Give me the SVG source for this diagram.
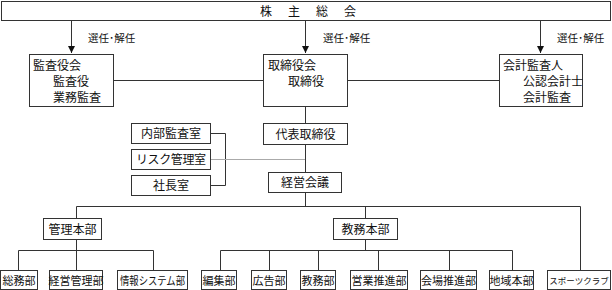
<svg xmlns="http://www.w3.org/2000/svg" width="612" height="290" viewBox="0 0 612 290">
<style>
.b{fill:#fff;stroke:#333;stroke-width:1}
.t{font-family:"Liberation Serif","Noto Sans CJK JP",serif;font-size:12px;fill:#111}
.c{text-anchor:middle}
.s{font-size:10.5px}
.r{font-size:11px}
.ln{stroke:#333;stroke-width:1;fill:none}
.g{stroke:#aaa;stroke-width:1.2;fill:none}
</style>
<defs>
<marker id="ah" markerWidth="8" markerHeight="8" refX="7" refY="4" orient="auto" markerUnits="userSpaceOnUse">
<path d="M0,0.5 L7,4 L0,7.5 Z" fill="#111"/>
</marker>
</defs>
<rect width="612" height="290" fill="#fff"/>
<g id="connectors">
<line class="ln" x1="71.5" y1="21" x2="71.5" y2="53" marker-end="url(#ah)"/>
<line class="ln" x1="305.5" y1="21" x2="305.5" y2="53" marker-end="url(#ah)"/>
<line class="ln" x1="540.5" y1="21" x2="540.5" y2="53" marker-end="url(#ah)"/>
<line class="ln" x1="113" y1="80.5" x2="263" y2="80.5"/>
<line class="ln" x1="347" y1="80.5" x2="499" y2="80.5"/>
<line class="ln" x1="305.5" y1="107" x2="305.5" y2="123"/>
<line class="ln" x1="305.5" y1="144" x2="305.5" y2="172"/>
<line class="ln" x1="305.5" y1="192" x2="305.5" y2="206.5"/>
<polyline class="ln" points="210,133.5 225.5,133.5 225.5,185.5 210,185.5"/>
<line class="g" x1="210" y1="159.5" x2="305" y2="159.5"/>
<polyline class="ln" points="76.5,218 76.5,206.5 580.5,206.5 580.5,270"/>
<line class="ln" x1="365.5" y1="206.5" x2="365.5" y2="218"/>
<line class="ln" x1="76.5" y1="239" x2="76.5" y2="250.5"/>
<polyline class="ln" points="18.5,270 18.5,250.5 153.5,250.5 153.5,270"/>
<line class="ln" x1="76.5" y1="250.5" x2="76.5" y2="270"/>
<line class="ln" x1="365.5" y1="239" x2="365.5" y2="250.5"/>
<polyline class="ln" points="220.5,270 220.5,250.5 512.5,250.5 512.5,270"/>
<line class="ln" x1="269.5" y1="250.5" x2="269.5" y2="270"/>
<line class="ln" x1="318.5" y1="250.5" x2="318.5" y2="270"/>
<line class="ln" x1="378.5" y1="250.5" x2="378.5" y2="270"/>
<line class="ln" x1="449.5" y1="250.5" x2="449.5" y2="270"/>
</g>
<g id="labels">
<text class="t s" x="88" y="42">選任･解任</text>
<text class="t s" x="323" y="42">選任･解任</text>
<text class="t s" x="557" y="42">選任･解任</text>
</g>
<g id="kabunushi">
<rect class="b" x="1.5" y="1.5" width="609" height="19"/>
<text class="t" x="260" y="16" letter-spacing="2">株　主　総　会</text>
</g>
<g id="kansayakukai">
<rect class="b" x="29.5" y="54.5" width="84" height="52"/>
<text class="t" x="33" y="70">監査役会</text>
<text class="t" x="53" y="86">監査役</text>
<text class="t" x="53" y="102">業務監査</text>
</g>
<g id="torishimariyakukai">
<rect class="b" x="263.5" y="54.5" width="84" height="52"/>
<text class="t" x="268" y="70">取締役会</text>
<text class="t" x="288" y="86">取締役</text>
</g>
<g id="kaikeikansanin">
<rect class="b" x="499.5" y="54.5" width="83" height="52"/>
<text class="t" x="503" y="70">会計監査人</text>
<text class="t" x="523" y="86">公認会計士</text>
<text class="t" x="523" y="102">会計監査</text>
</g>
<g id="naibukansa">
<rect class="b" x="131.5" y="123.5" width="79" height="20"/>
<text class="t c" x="171" y="138">内部監査室</text>
</g>
<g id="risk">
<rect class="b" x="131.5" y="149.5" width="79" height="20"/>
<text class="t c" x="171" y="164" textLength="70" lengthAdjust="spacing">リスク管理室</text>
</g>
<g id="shachoshitsu">
<rect class="b" x="131.5" y="175.5" width="79" height="20"/>
<text class="t c" x="171" y="190">社長室</text>
</g>
<g id="daihyo">
<rect class="b" x="263.5" y="123.5" width="84" height="21"/>
<text class="t c" x="305.5" y="138.5">代表取締役</text>
</g>
<g id="keieikaigi">
<rect class="b" x="268.5" y="172.5" width="73" height="20"/>
<text class="t c" x="305" y="187">経営会議</text>
</g>
<g id="kanrihonbu">
<rect class="b" x="43.5" y="218.5" width="58" height="21"/>
<text class="t c" x="72.5" y="233.5">管理本部</text>
</g>
<g id="kyomuhonbu">
<rect class="b" x="333.5" y="218.5" width="64" height="21"/>
<text class="t c" x="365.5" y="233.5">教務本部</text>
</g>
<g id="somubu">
<rect class="b" x="0.5" y="270.5" width="37" height="19"/>
<text class="t c r" x="19" y="284.5">総務部</text>
</g>
<g id="keieikanribu">
<rect class="b" x="49.5" y="270.5" width="53" height="19"/>
<text class="t c r" x="76" y="284.5">経営管理部</text>
</g>
<g id="johosystembu">
<rect class="b" x="117.5" y="270.5" width="70" height="19"/>
<text class="t c r" x="152.5" y="284.5" textLength="65" lengthAdjust="spacingAndGlyphs">情報システム部</text>
</g>
<g id="henshubu">
<rect class="b" x="201.5" y="270.5" width="35" height="19"/>
<text class="t c r" x="219" y="284.5">編集部</text>
</g>
<g id="kokokubu">
<rect class="b" x="251.5" y="270.5" width="35" height="19"/>
<text class="t c r" x="269" y="284.5">広告部</text>
</g>
<g id="kyomubu">
<rect class="b" x="300.5" y="270.5" width="35" height="19"/>
<text class="t c r" x="318" y="284.5">教務部</text>
</g>
<g id="eigyosuishinbu">
<rect class="b" x="350.5" y="270.5" width="57" height="19"/>
<text class="t c r" x="379" y="284.5">営業推進部</text>
</g>
<g id="kaijosuishinbu">
<rect class="b" x="420.5" y="270.5" width="56" height="19"/>
<text class="t c r" x="448.5" y="284.5">会場推進部</text>
</g>
<g id="chiikihonbu">
<rect class="b" x="489.5" y="270.5" width="44" height="19"/>
<text class="t c r" x="511.5" y="284.5">地域本部</text>
</g>
<g id="sportsclub">
<rect class="b" x="547.5" y="270.5" width="63" height="19"/>
<text class="t c" x="579" y="284" style="font-size:8.5px">スポーツクラブ</text>
</g>
</svg>
